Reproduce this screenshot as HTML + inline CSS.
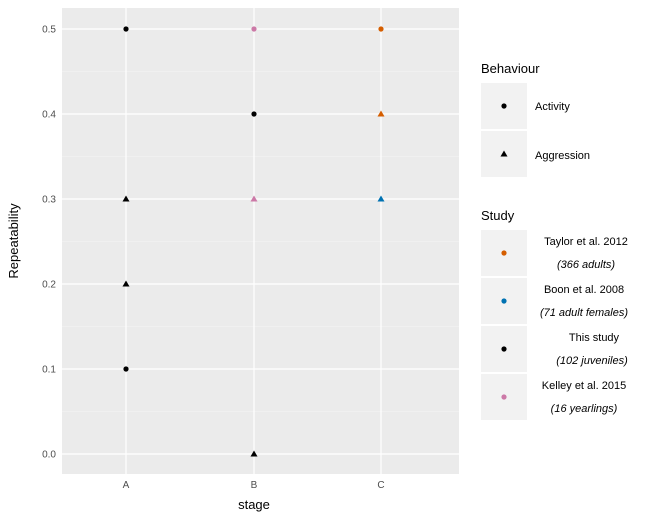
<!DOCTYPE html>
<html><head><style>body{margin:0;background:#fff}</style></head><body>
<svg width="648" height="520" xmlns="http://www.w3.org/2000/svg" font-family="Liberation Sans, sans-serif">
<rect x="62" y="8" width="397" height="466" fill="#ebebeb"/>
<g stroke="#f5f5f5" stroke-width="0.6">
<line x1="62" x2="459" y1="71.5" y2="71.5"/><line x1="62" x2="459" y1="156.5" y2="156.5"/><line x1="62" x2="459" y1="241.5" y2="241.5"/><line x1="62" x2="459" y1="326.5" y2="326.5"/><line x1="62" x2="459" y1="411.5" y2="411.5"/>
</g>
<g stroke="#fff" stroke-width="1.2">
<line x1="62" x2="459" y1="29" y2="29"/><line x1="62" x2="459" y1="114" y2="114"/><line x1="62" x2="459" y1="199" y2="199"/><line x1="62" x2="459" y1="284" y2="284"/><line x1="62" x2="459" y1="369" y2="369"/><line x1="62" x2="459" y1="454" y2="454"/>
<line x1="126" x2="126" y1="8" y2="474"/><line x1="254" x2="254" y1="8" y2="474"/><line x1="381" x2="381" y1="8" y2="474"/>
</g>
<g>
<circle cx="126" cy="29" r="2.6" fill="#000"/>
<circle cx="254" cy="29" r="2.6" fill="#cc79a7"/>
<circle cx="381" cy="29" r="2.6" fill="#d55e00"/>
<circle cx="254" cy="114" r="2.6" fill="#000"/>
<polygon points="381,110.5 384.5,116.5 377.5,116.5" fill="#d55e00"/>
<polygon points="126,195.5 129.5,201.5 122.5,201.5" fill="#000"/>
<polygon points="254,195.5 257.5,201.5 250.5,201.5" fill="#cc79a7"/>
<polygon points="381,195.5 384.5,201.5 377.5,201.5" fill="#0072b2"/>
<polygon points="126,280.5 129.5,286.5 122.5,286.5" fill="#000"/>
<circle cx="126" cy="369" r="2.6" fill="#000"/>
<polygon points="254,450.5 257.5,456.5 250.5,456.5" fill="#000"/>
</g>
<g font-size="10" fill="#4d4d4d" text-anchor="end">
<text x="56" y="32.5">0.5</text><text x="56" y="117.5">0.4</text><text x="56" y="202.5">0.3</text><text x="56" y="287.5">0.2</text><text x="56" y="372.5">0.1</text><text x="56" y="457.5">0.0</text>
</g>
<g font-size="10" fill="#4d4d4d" text-anchor="middle">
<text x="126" y="488">A</text><text x="254" y="488">B</text><text x="381" y="488">C</text>
</g>
<text x="254" y="509" font-size="13" text-anchor="middle">stage</text>
<text transform="translate(18,241) rotate(-90)" font-size="13" text-anchor="middle">Repeatability</text>
<text x="481" y="73" font-size="13">Behaviour</text>
<rect x="481" y="83" width="46" height="46" fill="#f2f2f2"/>
<rect x="481" y="131" width="46" height="46" fill="#f2f2f2"/>
<circle cx="504" cy="106" r="2.6" fill="#000"/>
<polygon points="504,150.5 507.5,156.5 500.5,156.5" fill="#000"/>
<text x="535" y="110" font-size="11">Activity</text>
<text x="535" y="159" font-size="11">Aggression</text>
<text x="481" y="220" font-size="13">Study</text>
<g fill="#f2f2f2">
<rect x="481" y="230" width="46" height="46"/><rect x="481" y="278" width="46" height="46"/><rect x="481" y="326" width="46" height="46"/><rect x="481" y="374" width="46" height="46"/>
</g>
<circle cx="504" cy="253" r="2.6" fill="#d55e00"/>
<circle cx="504" cy="301" r="2.6" fill="#0072b2"/>
<circle cx="504" cy="349" r="2.6" fill="#000"/>
<circle cx="504" cy="397" r="2.6" fill="#cc79a7"/>
<g font-size="11" text-anchor="middle">
<text x="586" y="245">Taylor et al. 2012</text><text x="586" y="268" font-style="italic">(366 adults)</text>
<text x="584" y="293">Boon et al. 2008</text><text x="584" y="316" font-style="italic">(71 adult females)</text>
<text x="594" y="341">This study</text><text x="592" y="364" font-style="italic">(102 juveniles)</text>
<text x="584" y="389">Kelley et al. 2015</text><text x="584" y="412" font-style="italic">(16 yearlings)</text>
</g>
</svg>
</body></html>
